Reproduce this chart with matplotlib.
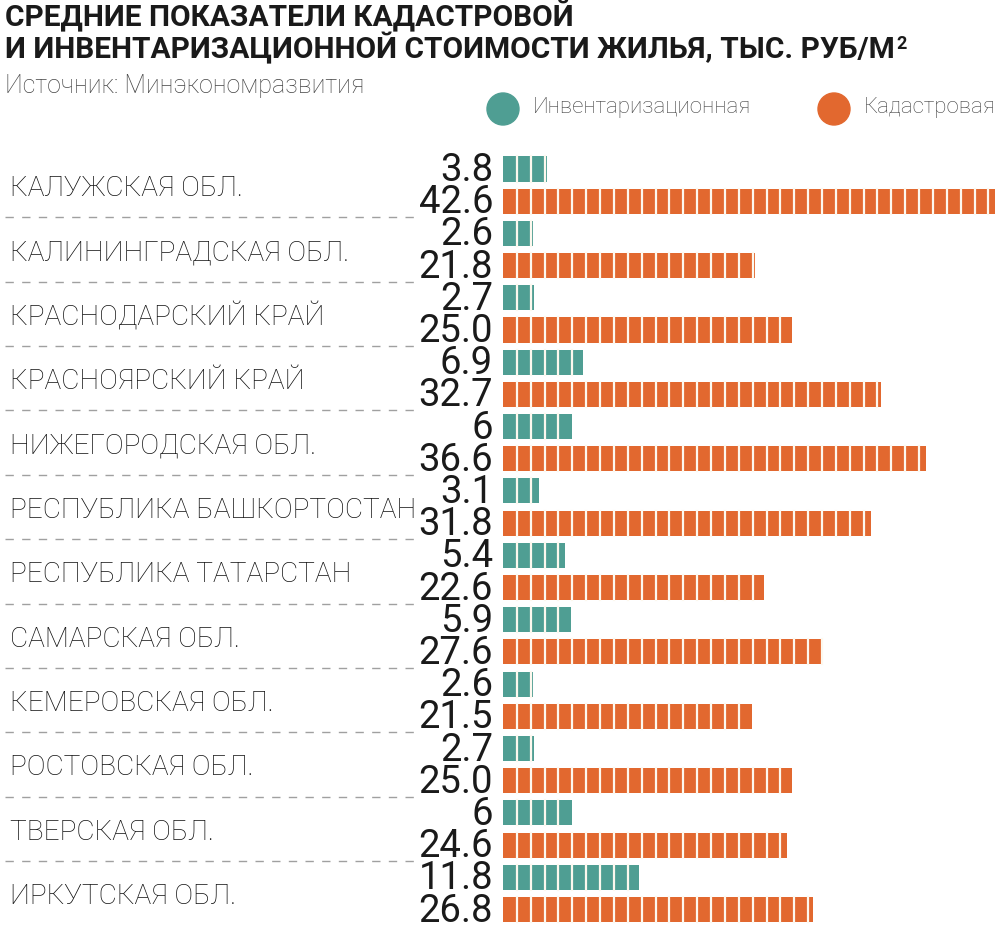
import matplotlib.pyplot as plt
from matplotlib.transforms import blended_transform_factory
from matplotlib.patches import Circle

regions = ['КАЛУЖСКАЯ ОБЛ.', 'КАЛИНИНГРАДСКАЯ ОБЛ.', 'КРАСНОДАРСКИЙ КРАЙ',
           'КРАСНОЯРСКИЙ КРАЙ', 'НИЖЕГОРОДСКАЯ ОБЛ.', 'РЕСПУБЛИКА БАШКОРТОСТАН',
           'РЕСПУБЛИКА ТАТАРСТАН', 'САМАРСКАЯ ОБЛ.', 'КЕМЕРОВСКАЯ ОБЛ.',
           'РОСТОВСКАЯ ОБЛ.', 'ТВЕРСКАЯ ОБЛ.', 'ИРКУТСКАЯ ОБЛ.']
inventory = [3.8, 2.6, 2.7, 6.9, 6, 3.1, 5.4, 5.9, 2.6, 2.7, 6, 11.8]
cadastre = [42.6, 21.8, 25.0, 32.7, 36.6, 31.8, 22.6, 27.6, 21.5, 25.0, 24.6, 26.8]
inventory_labels = ['3.8', '2.6', '2.7', '6.9', '6', '3.1', '5.4', '5.9', '2.6', '2.7', '6', '11.8']
cadastre_labels = ['42.6', '21.8', '25.0', '32.7', '36.6', '31.8', '22.6', '27.6', '21.5', '25.0', '24.6', '26.8']

teal = '#4f9e93'
orange = '#e2682f'
seg = 1.2  # width of one block in a bar

fig = plt.figure(figsize=(10, 9.31), dpi=100)
ax = fig.add_axes([0.503, 0.0058, 0.497, 0.83])
ax.set_xlim(0, 43)
ax.set_ylim(23.5, -0.5)
ax.axis('off')

num_font = dict(family='Roboto', fontsize=27.5, color='#1a1a1a')
lbl_font = dict(family='Roboto', fontweight='light', fontsize=20.2, color='#111111')

tr = blended_transform_factory(fig.transFigure, ax.transData)

for i in range(len(regions)):
    for k, (val, col, txt) in enumerate([(inventory[i], teal, inventory_labels[i]),
                                         (cadastre[i], orange, cadastre_labels[i])]):
        y = 2 * i + k
        ax.barh(y, val, height=0.78, color=col, linewidth=0)
        x = seg
        while x < val:
            ax.plot([x, x], [y - 0.39, y + 0.39], color='#fdf8ee', lw=1.6)
            x += seg
        ax.text(0.493, y + 0.05, txt, transform=tr, ha='right', va='center', **num_font)
    ax.text(0.01, 2 * i + 0.6, regions[i], transform=tr, ha='left', va='center', **lbl_font)
    if i < len(regions) - 1:
        ax.plot([0.005, 0.415], [2 * i + 1.5, 2 * i + 1.5], transform=tr,
                color='#a0a0a0', lw=1, ls=(0, (6, 6)), clip_on=False)

title_font = dict(family='Roboto', fontweight='bold', fontsize=21.5, color='#1a1a1a', va='center')
fig.text(0.005, 0.982, 'СРЕДНИЕ ПОКАЗАТЕЛИ КАДАСТРОВОЙ', **title_font)
t2 = fig.text(0.005, 0.948, 'И ИНВЕНТАРИЗАЦИОННОЙ СТОИМОСТИ ЖИЛЬЯ, ТЫС. РУБ/М', **title_font)
fig.text(0, 0, '2', family='Roboto', fontweight='bold', fontsize=13, color='#1a1a1a',
         ha='left', va='top',
         transform=blended_transform_factory(fig.transFigure, fig.transFigure))
fig.texts[-1].remove()
ax.annotate('2', xy=(1, 0.93), xycoords=t2, xytext=(1.5, 0), textcoords='offset points',
            family='Roboto', fontweight='bold', fontsize=13, color='#1a1a1a',
            ha='left', va='top', annotation_clip=False)
fig.text(0.005, 0.908, 'Источник: Минэкономразвития', family='Roboto', fontweight='light',
         fontsize=18, color='#444444', va='center')

# legend
for cx, col, name in [(0.503, teal, 'Инвентаризационная'), (0.834, orange, 'Кадастровая')]:
    fig.add_artist(Circle((cx * 1000, 931 - 109), 16, transform=None, color=col))
    fig.text(cx + 0.030, 1 - 108 / 931, name, family='Roboto', fontweight='light',
             fontsize=16, color='#444444', va='center')

fig.savefig('out.png', dpi=100, facecolor='white')
